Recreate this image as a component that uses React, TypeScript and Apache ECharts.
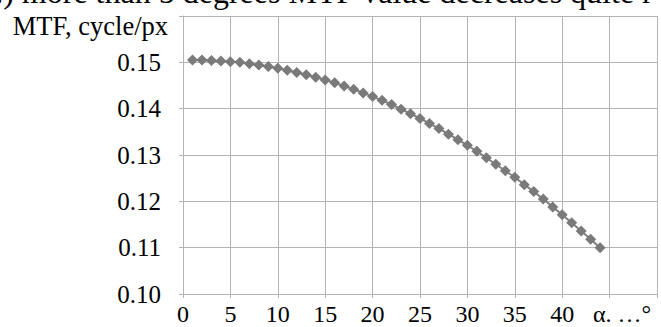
import React, { useEffect, useRef } from "react";
import * as echarts from "echarts";

const angles = [1,2,3,4,5,6,7,8,9,10,11,12,13,14,15,16,17,18,19,20,21,22,23,24,25,26,27,28,29,30,31,32,33,34,35,36,37,38,39,40,41,42,43,44];
const mtf = [0.1505,0.1505,0.1504,0.1503,0.1501,0.1500,0.1497,0.1494,0.1491,0.1487,0.1483,0.1478,0.1473,0.1468,0.1462,0.1456,0.1449,0.1442,0.1434,0.1426,0.1418,0.1409,0.1399,0.1389,0.1379,0.1368,0.1357,0.1345,0.1333,0.1321,0.1308,0.1294,0.1280,0.1266,0.1252,0.1236,0.1221,0.1205,0.1188,0.1171,0.1154,0.1136,0.1118,0.1100];
const xTickLabels = ["0","5","10","15","20","25","30","35","40"];
const yTickLabels = ["0.10","0.11","0.12","0.13","0.14","0.15"];
const yAxisTitle = "MTF, cycle/px";
const xAxisTitle = "α. …°";
const captionText = "a.) more than 5 degrees MTF value decreases quite r";

const FONT = "Liberation Serif";

export default function App() {
  const ref = useRef<HTMLDivElement>(null);
  useEffect(() => {
    if (!ref.current) return;
    const chart = echarts.init(ref.current, null, { renderer: "svg" });
    const gridColor = "#b4b4b4";
    const line = { show: true, lineStyle: { color: gridColor, width: 1, type: "solid" } };
    chart.setOption({
      animation: false,
      backgroundColor: "#ffffff",
      grid: { left: 183, right: 4, top: 16, bottom: 33, containLabel: false, show: false },
      xAxis: {
        type: "value",
        min: 0,
        max: 50,
        interval: 5,
        axisLine: line,
        axisTick: { show: true, length: 4, lineStyle: { color: gridColor, width: 1 } },
        splitLine: line,
        axisLabel: {
          color: "#000",
          fontFamily: FONT,
          fontSize: 24,
          margin: 8,
          formatter: (v: number) => {
            const i = Math.round(v / 5);
            return i < xTickLabels.length ? xTickLabels[i] : "";
          },
        },
      },
      yAxis: {
        type: "value",
        min: 0.1,
        max: 0.16,
        interval: 0.01,
        axisLine: line,
        axisTick: { show: true, length: 4, lineStyle: { color: gridColor, width: 1 } },
        splitLine: line,
        axisLabel: {
          color: "#000",
          fontFamily: FONT,
          fontSize: 25,
          margin: 22,
          formatter: (v: number) => {
            const i = Math.round((v - 0.1) / 0.01);
            return i < yTickLabels.length ? yTickLabels[i] : "";
          },
        },
      },
      graphic: [
        {
          type: "text",
          x: 12.7,
          y: 26,
          style: { text: yAxisTitle, fontFamily: FONT, fontSize: 26.5, fill: "#000", align: "left", verticalAlign: "middle" },
        },
        {
          type: "text",
          left: 593,
          top: 302,
          style: { text: xAxisTitle, fontFamily: FONT, fontSize: 24, fill: "#000" },
        },
        {
          type: "text",
          x: -19,
          y: -8,
          style: { text: captionText, fontFamily: FONT, fontSize: 32, fill: "#000", align: "left", verticalAlign: "middle" },
        },
      ],
      series: [
        {
          type: "line",
          data: angles.map((a, i) => [a, mtf[i]]),
          symbol: "diamond",
          symbolSize: 11,
          showSymbol: true,
          lineStyle: { color: "#808080", width: 2 },
          itemStyle: { color: "#7a7a7a" },
        },
      ],
    });
    return () => chart.dispose();
  }, []);
  return (
    <div
      ref={ref}
      style={{ position: "fixed", left: 0, top: 0, width: 661, height: 327, background: "#fff" }}
    />
  );
}
